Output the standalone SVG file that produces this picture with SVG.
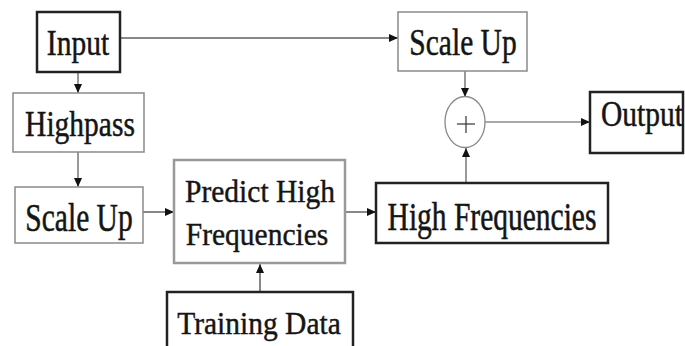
<svg xmlns="http://www.w3.org/2000/svg" width="685" height="346" viewBox="0 0 685 346">
<defs>
<marker id="ah" markerUnits="userSpaceOnUse" markerWidth="10" markerHeight="8" refX="9" refY="4" orient="auto">
<path d="M0,0 L9,4 L0,8 Z" fill="#111"/>
</marker>
<style>
text{font-family:'Liberation Serif',serif;font-size:29.5px;fill:#151515;stroke:#151515;stroke-width:0.4;text-anchor:middle}
.thick{fill:#fff;stroke:#222;stroke-width:2.5}
.thin{fill:#fff;stroke:#8a8a8a;stroke-width:1.5}
.mid{fill:#fff;stroke:#999;stroke-width:2.5}
.conn{fill:none;stroke:#555;stroke-width:1.2;marker-end:url(#ah)}
.gray{stroke:#888;stroke-width:2}
</style>
</defs>
<rect width="685" height="346" fill="#fff"/>
<g id="connectors">
<line class="conn gray" x1="121" y1="38" x2="398" y2="38"/>
<line class="conn" x1="78" y1="73" x2="78" y2="93"/>
<line class="conn" x1="78" y1="152" x2="78" y2="187"/>
<line class="conn gray" x1="143" y1="212" x2="174" y2="212"/>
<line class="conn gray" x1="260" y1="292" x2="260" y2="264"/>
<line class="conn gray" x1="346" y1="212" x2="376" y2="212"/>
<line class="conn" x1="466" y1="183" x2="466" y2="148"/>
<line class="conn" x1="465" y1="71" x2="465" y2="97"/>
<line class="conn" x1="485" y1="122" x2="590" y2="122"/>
</g>
<g id="input">
<rect class="thick" x="37" y="12" width="83" height="60"/>
<text font-family="Liberation Serif, serif" transform="translate(78,55) scale(1,1.2)">Input</text>
</g>
<g id="highpass">
<rect class="thin" x="13" y="93" width="131" height="59"/>
<text font-family="Liberation Serif, serif" transform="translate(80,136) scale(1,1.2)">Highpass</text>
</g>
<g id="scaleup-left">
<rect class="thin" x="15" y="187" width="128" height="56"/>
<text font-family="Liberation Serif, serif" transform="translate(79,231) scale(1,1.35)">Scale Up</text>
</g>
<g id="predict">
<rect class="mid" x="174" y="160" width="171" height="103"/>
<text font-family="Liberation Serif, serif" transform="translate(260,202) scale(1,1.1)">Predict High</text>
<text font-family="Liberation Serif, serif" transform="translate(257,245) scale(1,1.1)">Frequencies</text>
</g>
<g id="training">
<rect class="thick" x="167" y="292" width="186" height="70"/>
<text font-family="Liberation Serif, serif" transform="translate(259,334) scale(1,1.1)">Training Data</text>
</g>
<g id="scaleup-top">
<rect class="thin" x="398" y="12" width="129" height="59"/>
<text font-family="Liberation Serif, serif" transform="translate(463,55) scale(1,1.3)">Scale Up</text>
</g>
<g id="sum">
<ellipse cx="465" cy="122" rx="20" ry="25.5" fill="#fff" stroke="#888" stroke-width="1.3"/>
<line x1="457" y1="124" x2="475" y2="124" stroke="#333" stroke-width="1.2"/>
<line x1="466" y1="116" x2="466" y2="133" stroke="#333" stroke-width="1.2"/>
</g>
<g id="output">
<rect class="thick" x="590" y="92" width="93" height="61"/>
<text font-family="Liberation Serif, serif" transform="translate(642,126) scale(1,1.2)">Output</text>
</g>
<g id="highfreq">
<rect class="thick" x="376" y="183" width="232" height="60"/>
<text font-family="Liberation Serif, serif" transform="translate(492,230) scale(1,1.35)">High Frequencies</text>
</g>
</svg>
